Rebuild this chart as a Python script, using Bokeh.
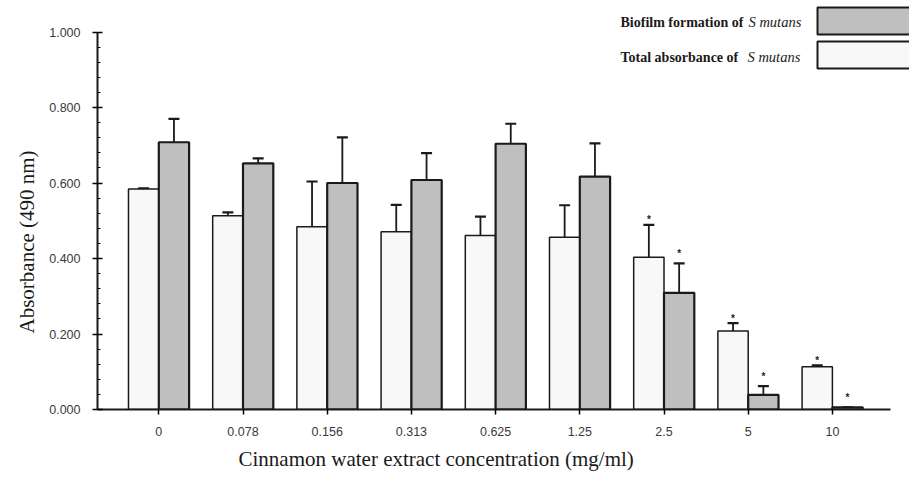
import numpy as np
from bokeh.plotting import figure
from bokeh.models import (ColumnDataSource, FixedTicker, Whisker, TeeHead, Label,
                          NumeralTickFormatter, Range1d, Title)
from bokeh.core.properties import value
from bokeh.embed import file_html
from bokeh.resources import INLINE

# ---------------- data ----------------
concentrations = ["0", "0.078", "0.156", "0.313", "0.625", "1.25", "2.5", "5", "10"]
total_abs = [0.584, 0.513, 0.484, 0.471, 0.461, 0.456, 0.403, 0.208, 0.113]
total_err = [0.002, 0.009, 0.120, 0.071, 0.050, 0.085, 0.086, 0.021, 0.004]
biofilm = [0.708, 0.652, 0.600, 0.608, 0.704, 0.617, 0.309, 0.039, 0.006]
biofilm_err = [0.062, 0.013, 0.121, 0.071, 0.053, 0.088, 0.078, 0.023, 0.000]
total_sig = [0, 0, 0, 0, 0, 0, 1, 1, 1]
biofilm_sig = [0, 0, 0, 0, 0, 0, 1, 1, 1]

# ---------------- layout helpers ----------------
W, H = 909, 478
FRAME_LEFT = 97
Y0_PX = 409          # pixel row of y = 0 (frame bottom)
X0_PX = 158.3        # pixel column of first category
PX_PER_X = 84.2
PX_PER_Y = 377.5

def dx(px):
    return (px - X0_PX) / PX_PER_X

def dy(py):
    return (Y0_PX - py) / PX_PER_Y

x = np.arange(len(concentrations))
off = 0.18
bw = 0.36

p = figure(width=W, height=H, output_backend="svg", toolbar_location=None,
           x_range=Range1d(dx(FRAME_LEFT), dx(W)), y_range=Range1d(0, dy(0)),
           min_border_left=FRAME_LEFT, min_border_right=0, min_border_top=0,
           min_border_bottom=H - Y0_PX)
p.outline_line_color = None
p.xgrid.visible = False
p.ygrid.visible = False
p.background_fill_color = "white"
p.border_fill_color = "white"

src_w = ColumnDataSource(dict(x=x - off, v=total_abs,
                              top=np.array(total_abs) + np.array(total_err),
                              sig=total_sig))
src_g = ColumnDataSource(dict(x=x + off, v=biofilm,
                              top=np.array(biofilm) + np.array(biofilm_err),
                              sig=biofilm_sig))

p.vbar(x="x", top="v", bottom=0, width=bw, source=src_w,
       fill_color="#f8f8f8", line_color="#1a1a1a", line_width=1.5)
p.vbar(x="x", top="v", bottom=0, width=bw, source=src_g,
       fill_color="#bfbfbf", line_color="#1a1a1a", line_width=2.2)

for src in (src_w, src_g):
    p.add_layout(Whisker(source=src, base="x", lower="v", upper="top",
                         dimension="height", lower_head=None,
                         upper_head=TeeHead(size=11, line_width=2.2, line_color="#1a1a1a"),
                         line_width=1.8, line_color="#1a1a1a"))

# significance marks
wsig = ColumnDataSource(dict(x=[a for a, s in zip(src_w.data["x"], total_sig) if s],
                             y=[t for t, s in zip(src_w.data["top"], total_sig) if s]))
gsig = ColumnDataSource(dict(x=[a for a, s in zip(src_g.data["x"], biofilm_sig) if s],
                             y=[t for t, s in zip(src_g.data["top"], biofilm_sig) if s]))
p.text(x="x", y="y", text=value("*"), source=wsig, text_align="center",
       text_baseline="middle", y_offset=-5, text_font=value("Liberation Sans"),
       text_font_size="10px", text_font_style="bold", text_color="#222222")
p.text(x="x", y="y", text=value("*"), source=gsig, text_align="center",
       text_baseline="middle", y_offset=-10, text_font=value("Liberation Sans"),
       text_font_size="10px", text_font_style="bold", text_color="#222222")

# ---------------- axes ----------------
xa = p.xaxis[0]
xa.ticker = FixedTicker(ticks=list(x))
xa.major_label_overrides = {int(i): c for i, c in zip(x, concentrations)}
xa.bounds = (dx(FRAME_LEFT), dx(890))
xa.axis_line_width = 2
xa.axis_line_color = "#1a1a1a"
xa.major_tick_in = 0
xa.major_tick_out = 5
xa.major_tick_line_width = 1.5
xa.minor_tick_line_color = None
xa.major_label_text_font = "Liberation Sans"
xa.major_label_text_font_size = "12.5px"
xa.major_label_text_color = "#3a3a3a"
xa.major_label_standoff = 12

ya = p.yaxis[0]
ya.ticker = FixedTicker(ticks=[0, 0.2, 0.4, 0.6, 0.8, 1.0],
                        minor_ticks=[round(i * 0.04, 2) for i in range(26)])
ya.formatter = NumeralTickFormatter(format="0.000")
ya.bounds = (0, 1)
ya.axis_line_width = 2
ya.axis_line_color = "#1a1a1a"
ya.major_tick_in = 5
ya.major_tick_out = 5
ya.major_tick_line_width = 1.5
ya.minor_tick_in = 3
ya.minor_tick_out = 0
ya.minor_tick_line_width = 1.2
ya.major_label_text_font = "Liberation Sans"
ya.major_label_text_font_size = "12.5px"
ya.major_label_text_color = "#3a3a3a"
ya.major_label_standoff = 12

# axis titles (placed as side titles so they can be offset like in the reference)
p.add_layout(Title(text="Cinnamon water extract concentration (mg/ml)", align="left",
                   offset=238 - FRAME_LEFT, standoff=13, text_font="Liberation Serif",
                   text_font_size="21px", text_font_style="normal",
                   text_color="#1a1a1a"), "below")
p.add_layout(Title(text="Absorbance (490 nm)", align="left", offset=Y0_PX - 333,
                   standoff=16, text_font="Liberation Serif", text_font_size="21px",
                   text_font_style="normal", text_color="#1a1a1a"), "left")

# ---------------- legend ----------------
p.quad(left=[dx(817)], right=[dx(930)], top=[dy(7)], bottom=[dy(34)],
       fill_color="#bfbfbf", line_color="#1a1a1a", line_width=2)
p.quad(left=[dx(817)], right=[dx(930)], top=[dy(41)], bottom=[dy(68)],
       fill_color="#f8f8f8", line_color="#1a1a1a", line_width=2)
for row_y, txt in ((21.7, "Biofilm formation of"), (56.7, "Total absorbance of")):
    p.add_layout(Label(x=dx(620), y=dy(row_y), text=txt, text_align="left",
                       text_baseline="middle", text_font="Liberation Serif",
                       text_font_size="14px", text_font_style="bold", text_color="#1a1a1a"))
for row_y, start in ((21.7, 748), (56.7, 747)):
    p.add_layout(Label(x=dx(start), y=dy(row_y), text="S mutans", text_align="left",
                       text_baseline="middle", text_font="Liberation Serif",
                       text_font_size="14.5px", text_font_style="italic", text_color="#1a1a1a"))

open("out.html", "w").write(file_html(p, INLINE))
